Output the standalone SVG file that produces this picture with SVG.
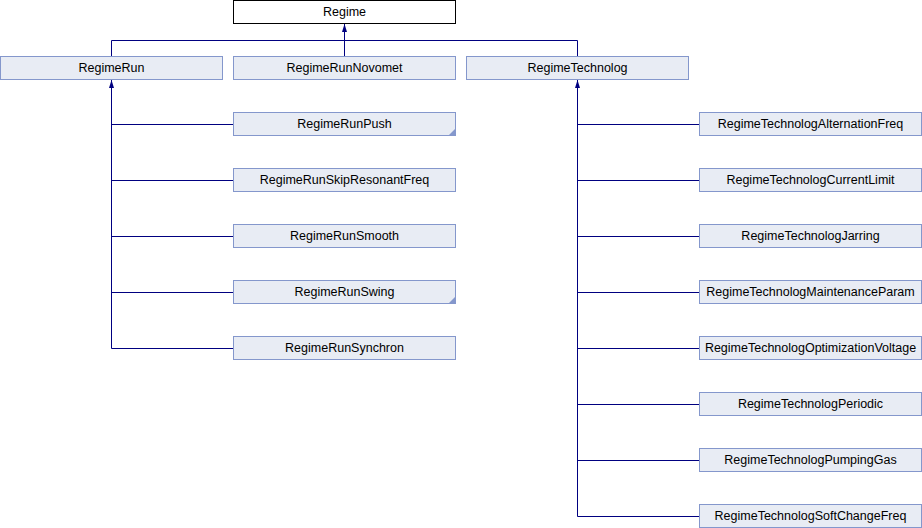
<svg xmlns="http://www.w3.org/2000/svg" width="922" height="528" viewBox="0 0 922 528">
  <style>
    .box { fill: #E8ECF4; stroke: #8497CC; stroke-width: 1; }
    .root { fill: #FFFFFF; stroke: #000000; stroke-width: 1; }
    .lbl { font-family: "Liberation Sans", Arial, sans-serif; font-size: 12.5px; fill: #000000; text-anchor: middle; }
    .edge { fill: none; stroke: #000080; stroke-width: 1; }
    .more { fill: #8497CC; }
  </style>
  <defs>
    <!-- filled inheritance arrowhead, tip at the path end -->
    <marker id="inh" viewBox="0 0 8 6" refX="8" refY="3" markerWidth="8" markerHeight="6" markerUnits="userSpaceOnUse" orient="auto">
      <path d="M8,3 L0,0.5 L0,5.5 Z" fill="#000080"/>
    </marker>
  </defs>
  <rect width="922" height="528" fill="#FFFFFF"/>

  <g id="connectors">
    <!-- Regime -> first level -->
    <path class="edge" d="M344.5,56 V24" marker-end="url(#inh)"/>
    <path class="edge" d="M111.5,56 V40.5 H577.5 V56"/>
    <!-- RegimeRun -> children -->
    <path class="edge" d="M111.5,348.5 V80" marker-end="url(#inh)"/>
    <path class="edge" d="M111.5,124.5 H233 M111.5,180.5 H233 M111.5,236.5 H233 M111.5,292.5 H233 M111.5,348.5 H233"/>
    <!-- RegimeTechnolog -> children -->
    <path class="edge" d="M577.5,516.5 V80" marker-end="url(#inh)"/>
    <path class="edge" d="M577.5,124.5 H699 M577.5,180.5 H699 M577.5,236.5 H699 M577.5,292.5 H699 M577.5,348.5 H699 M577.5,404.5 H699 M577.5,460.5 H699 M577.5,516.5 H699"/>
  </g>

  <g id="n_regime">
    <rect class="root" x="233.5" y="0.5" width="222" height="23"/>
    <text class="lbl" x="344.5" y="16">Regime</text>
  </g>
  <g id="n_regimerun">
    <rect class="box" x="0.5" y="56.5" width="222" height="23"/>
    <text class="lbl" x="111.5" y="72">RegimeRun</text>
  </g>
  <g id="n_regimerunnovomet">
    <rect class="box" x="233.5" y="56.5" width="222" height="23"/>
    <text class="lbl" x="344.5" y="72">RegimeRunNovomet</text>
  </g>
  <g id="n_regimetechnolog">
    <rect class="box" x="466.5" y="56.5" width="222" height="23"/>
    <text class="lbl" x="577.5" y="72">RegimeTechnolog</text>
  </g>

  <g id="n_regimerunpush">
    <rect class="box" x="233.5" y="112.5" width="222" height="23"/>
    <path class="more" d="M455,129 V135 H449 Z"/>
    <text class="lbl" x="344.5" y="128">RegimeRunPush</text>
  </g>
  <g id="n_regimerunskipresonantfreq">
    <rect class="box" x="233.5" y="168.5" width="222" height="23"/>
    <text class="lbl" x="344.5" y="184">RegimeRunSkipResonantFreq</text>
  </g>
  <g id="n_regimerunsmooth">
    <rect class="box" x="233.5" y="224.5" width="222" height="23"/>
    <text class="lbl" x="344.5" y="240">RegimeRunSmooth</text>
  </g>
  <g id="n_regimerunswing">
    <rect class="box" x="233.5" y="280.5" width="222" height="23"/>
    <path class="more" d="M455,297 V303 H449 Z"/>
    <text class="lbl" x="344.5" y="296">RegimeRunSwing</text>
  </g>
  <g id="n_regimerunsynchron">
    <rect class="box" x="233.5" y="336.5" width="222" height="23"/>
    <text class="lbl" x="344.5" y="352">RegimeRunSynchron</text>
  </g>

  <g id="n_alternationfreq">
    <rect class="box" x="699.5" y="112.5" width="222" height="23"/>
    <text class="lbl" x="810.5" y="128">RegimeTechnologAlternationFreq</text>
  </g>
  <g id="n_currentlimit">
    <rect class="box" x="699.5" y="168.5" width="222" height="23"/>
    <text class="lbl" x="810.5" y="184">RegimeTechnologCurrentLimit</text>
  </g>
  <g id="n_jarring">
    <rect class="box" x="699.5" y="224.5" width="222" height="23"/>
    <text class="lbl" x="810.5" y="240">RegimeTechnologJarring</text>
  </g>
  <g id="n_maintenanceparam">
    <rect class="box" x="699.5" y="280.5" width="222" height="23"/>
    <text class="lbl" x="810.5" y="296">RegimeTechnologMaintenanceParam</text>
  </g>
  <g id="n_optimizationvoltage">
    <rect class="box" x="699.5" y="336.5" width="222" height="23"/>
    <text class="lbl" x="810.5" y="352">RegimeTechnologOptimizationVoltage</text>
  </g>
  <g id="n_periodic">
    <rect class="box" x="699.5" y="392.5" width="222" height="23"/>
    <text class="lbl" x="810.5" y="408">RegimeTechnologPeriodic</text>
  </g>
  <g id="n_pumpinggas">
    <rect class="box" x="699.5" y="448.5" width="222" height="23"/>
    <text class="lbl" x="810.5" y="464">RegimeTechnologPumpingGas</text>
  </g>
  <g id="n_softchangefreq">
    <rect class="box" x="699.5" y="504.5" width="222" height="23"/>
    <text class="lbl" x="810.5" y="520">RegimeTechnologSoftChangeFreq</text>
  </g>
</svg>
